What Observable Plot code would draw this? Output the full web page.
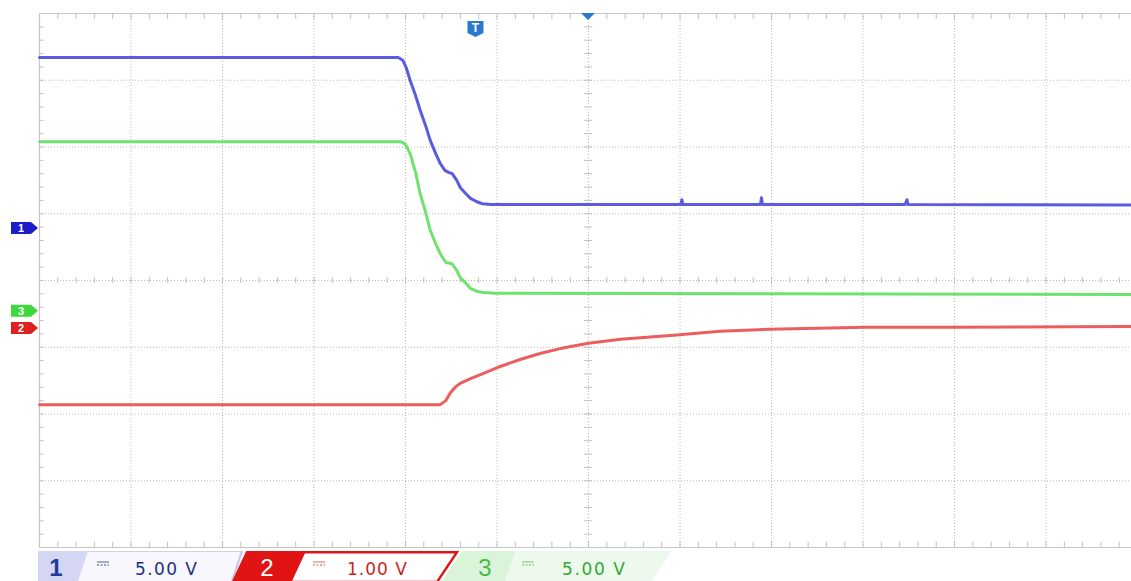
<!DOCTYPE html>
<html>
<head>
<meta charset="utf-8">
<script src="https://cdn.jsdelivr.net/npm/d3@7"></script>
<script src="https://cdn.jsdelivr.net/npm/@observablehq/plot@0.6"></script>
<style>
  body { margin: 0; background: #fff; }
  #scope { width: 1131px; line-height: 0; }
  #scope svg { display: block; }
</style>
</head>
<body>
<div id="scope"></div>
<script>
// Screen coordinates are in graticule divisions: time 0..12 div (left edge = 0),
// level -4..+4 div around the centre line.

// Channel 1 (5.00 V/div)
const ch1Time  = [0, 3.92, 3.97, 4.01, 4.05, 4.11, 4.16, 4.22, 4.27, 4.33, 4.38, 4.43, 4.47, 4.51, 4.56, 4.60, 4.66, 4.71, 4.78, 4.84, 4.93, 7.01, 7.02, 7.03, 7.88, 7.89, 7.90, 9.46, 9.48, 9.49, 11.93];
const ch1Level = [3.34, 3.34, 3.30, 3.18, 3.00, 2.77, 2.55, 2.32, 2.10, 1.90, 1.75, 1.65, 1.62, 1.60, 1.50, 1.39, 1.30, 1.23, 1.18, 1.15, 1.14, 1.14, 1.21, 1.14, 1.14, 1.24, 1.14, 1.14, 1.21, 1.14, 1.13];

// Channel 2 (1.00 V/div)
const ch2Time  = [0, 4.38, 4.44, 4.49, 4.55, 4.60, 4.71, 4.82, 5.01, 5.26, 5.48, 5.69, 6.00, 6.35, 6.93, 7.44, 7.99, 9.02, 9.96, 11.93];
const ch2Level = [-1.86, -1.86, -1.80, -1.68, -1.59, -1.54, -1.47, -1.41, -1.30, -1.18, -1.09, -1.02, -0.94, -0.88, -0.82, -0.76, -0.73, -0.70, -0.70, -0.69];

// Channel 3 (5.00 V/div)
const ch3Time  = [0, 3.95, 4.00, 4.05, 4.11, 4.16, 4.22, 4.27, 4.33, 4.38, 4.44, 4.51, 4.56, 4.60, 4.66, 4.71, 4.78, 4.85, 4.98, 11.93];
const ch3Level = [2.08, 2.08, 2.04, 1.90, 1.62, 1.30, 1.02, 0.75, 0.55, 0.40, 0.27, 0.25, 0.15, 0.04, -0.04, -0.12, -0.16, -0.18, -0.19, -0.21];

// Channel ground markers (div), trigger position (div) and volts/div labels
const channelIds    = ["1", "2", "3"];
const groundLevels  = [0.78, -0.72, -0.46];
const voltsPerDiv   = ["5.00 V", "1.00 V", "5.00 V"];
const triggerTime   = 4.77;
const centreTime    = 6;

const traceColor  = {"1": "#5b5be2", "2": "#ec5e5e", "3": "#6fe36f"};
const markerColor = {"1": "#1c1cc8", "2": "#de2020", "3": "#3ed83e"};

const toRows = (t, v) => t.map((d, i) => ({t: d, v: v[i]}));
const ch1 = toRows(ch1Time, ch1Level);
const ch2 = toRows(ch2Time, ch2Level);
const ch3 = toRows(ch3Time, ch3Level);

const xMax = 11.934;
const majorX = d3.range(1, 12);
const majorY = d3.range(-3, 4);
const minorX = d3.range(1, 60).map(i => i / 5).filter(d => d < xMax);
const minorY = d3.range(-19, 20).map(i => i / 5);

const gridStyle = {stroke: "#b9b9b9", strokeWidth: 1, strokeDasharray: "1 2"};
const frameStyle = {stroke: "#c6c6c6", strokeWidth: 1.2};
const tickStyle = {stroke: "#c0c0c0", strokeWidth: 1};

const plot = Plot.plot({
  width: 1131,
  height: 551,
  marginLeft: 39,
  marginRight: 0,
  marginTop: 13,
  marginBottom: 4,
  x: {domain: [0, xMax], axis: null},
  y: {domain: [-4, 4], axis: null},
  style: {background: "#fff"},
  marks: [
    // graticule
    Plot.ruleX(majorX, gridStyle),
    Plot.ruleY(majorY, gridStyle),
    Plot.ruleX([0], frameStyle),
    Plot.ruleY([-4, 4], frameStyle),
    // minor ticks on the frame and on the centre cross
    Plot.ruleX(minorX, {x: d => d, y1: 4, y2: 3.91, ...tickStyle}),
    Plot.ruleX(minorX, {x: d => d, y1: -4, y2: -3.92, ...tickStyle}),
    Plot.ruleY(minorY, {y: d => d, x1: 0, x2: 0.05, ...tickStyle}),
    Plot.ruleX(minorX, {x: d => d, y1: -0.045, y2: 0.045, ...tickStyle}),
    Plot.ruleY(minorY, {y: d => d, x1: centreTime - 0.045, x2: centreTime + 0.045, ...tickStyle}),
    // traces
    Plot.line(ch1, {x: "t", y: "v", stroke: traceColor["1"], strokeWidth: 3, strokeLinejoin: "round"}),
    Plot.line(ch3, {x: "t", y: "v", stroke: traceColor["3"], strokeWidth: 3, strokeLinejoin: "round"}),
    Plot.line(ch2, {x: "t", y: "v", stroke: traceColor["2"], strokeWidth: 3, strokeLinejoin: "round"})
  ]
});

document.getElementById("scope").appendChild(plot);

// Channel ground markers, trigger flag and horizontal position marker
const xs = plot.scale("x"), ys = plot.scale("y");
const svg = d3.select(plot);
const leftX = xs.apply(0);
const g = svg.append("g");

channelIds.forEach((id, i) => {
  const cy = ys.apply(groundLevels[i]);
  const tip = leftX - 1, body = leftX - 8, start = leftX - 28, h = 6;
  g.append("path")
    .attr("d", `M${start},${cy - h}H${body}L${tip},${cy}L${body},${cy + h}H${start}Z`)
    .attr("fill", markerColor[id]);
  g.append("text")
    .attr("x", (start + body) / 2).attr("y", cy + 4)
    .attr("text-anchor", "middle")
    .attr("font-family", "Liberation Sans, Arial, sans-serif")
    .attr("font-size", 11).attr("font-weight", "bold")
    .attr("fill", "#fff")
    .text(id);
});

const tx = xs.apply(triggerTime), topY = ys.apply(4);
g.append("path")
  .attr("d", `M${tx - 8},${topY + 8}H${tx + 8}V${topY + 20}L${tx},${topY + 24}L${tx - 8},${topY + 20}Z`)
  .attr("fill", "#2a79cc");
g.append("text")
  .attr("x", tx).attr("y", topY + 19)
  .attr("text-anchor", "middle")
  .attr("font-family", "Liberation Sans, Arial, sans-serif")
  .attr("font-size", 12).attr("font-weight", "bold")
  .attr("fill", "#fff")
  .text("T");

const cx = xs.apply(centreTime);
g.append("path")
  .attr("d", `M${cx - 7},${topY}H${cx + 7}L${cx},${topY + 7}Z`)
  .attr("fill", "#2a79cc");

// Channel settings bar under the screen
const bar = d3.select("#scope").append("svg")
  .attr("width", 1131).attr("height", 30)
  .style("display", "block");

const poly = pts => pts.map(p => p.join(",")).join(" ");
const font = "DejaVu Sans, Liberation Sans, sans-serif";

// channel 1
bar.append("polygon").attr("points", poly([[38, 0], [242, 0], [232, 30], [38, 30]]))
  .attr("fill", "#f7f7fd");
bar.append("line").attr("x1", 38).attr("x2", 242).attr("y1", 0.5).attr("y2", 0.5)
  .attr("stroke", "#d2d2f0");
bar.append("line").attr("x1", 242).attr("y1", 0).attr("x2", 232).attr("y2", 30)
  .attr("stroke", "#c4c4ea").attr("stroke-width", 2);
bar.append("polygon").attr("points", poly([[38, 0], [88, 0], [78, 30], [38, 30]]))
  .attr("fill", "#d5d5f4");

// channel 2
bar.append("polygon").attr("points", poly([[247, 1.2], [457, 1.2], [437, 31], [233, 31]]))
  .attr("fill", "#fff").attr("stroke", "#dd1414").attr("stroke-width", 2.4);
bar.append("polygon").attr("points", poly([[247, 0], [306, 0], [292, 30], [233, 30]]))
  .attr("fill", "#e01414");

// channel 3
bar.append("polygon").attr("points", poly([[462, 0], [672, 0], [652, 30], [442, 30]]))
  .attr("fill", "#ecf9ec");
bar.append("polygon").attr("points", poly([[462, 0], [515, 0], [505, 30], [442, 30]]))
  .attr("fill", "#d9f4d9");

const legendItems = [
  {id: "1", numX: 56, numColor: "#1f3c99", numWeight: "bold", dcX: 97, dcColor: "#8080a8", textX: 135, textW: 62, textColor: "#24307f"},
  {id: "2", numX: 267, numColor: "#ffffff", numWeight: "normal", dcX: 313, dcColor: "#e28a8a", textX: 347, textW: 60, textColor: "#cc1f1f"},
  {id: "3", numX: 485, numColor: "#45bb45", numWeight: "normal", dcX: 522, dcColor: "#8fd08f", textX: 562, textW: 63, textColor: "#34a834"}
];

legendItems.forEach((d, i) => {
  bar.append("text")
    .attr("x", d.numX).attr("y", 24.5)
    .attr("text-anchor", "middle")
    .attr("font-family", "Liberation Sans, Arial, sans-serif")
    .attr("font-size", 24)
    .attr("font-weight", d.numWeight)
    .attr("fill", d.numColor)
    .text(d.id);
  bar.append("line").attr("x1", d.dcX).attr("x2", d.dcX + 12).attr("y1", 11).attr("y2", 11)
    .attr("stroke", d.dcColor).attr("stroke-width", 1.3);
  bar.append("line").attr("x1", d.dcX).attr("x2", d.dcX + 12).attr("y1", 14).attr("y2", 14)
    .attr("stroke", d.dcColor).attr("stroke-width", 1.3).attr("stroke-dasharray", "2 1.5");
  bar.append("text")
    .attr("x", d.textX).attr("y", 24)
    .attr("font-family", font)
    .attr("font-size", 17)
    .attr("textLength", d.textW).attr("lengthAdjust", "spacing")
    .attr("fill", d.textColor)
    .text(voltsPerDiv[i]);
});
</script>
</body>
</html>
